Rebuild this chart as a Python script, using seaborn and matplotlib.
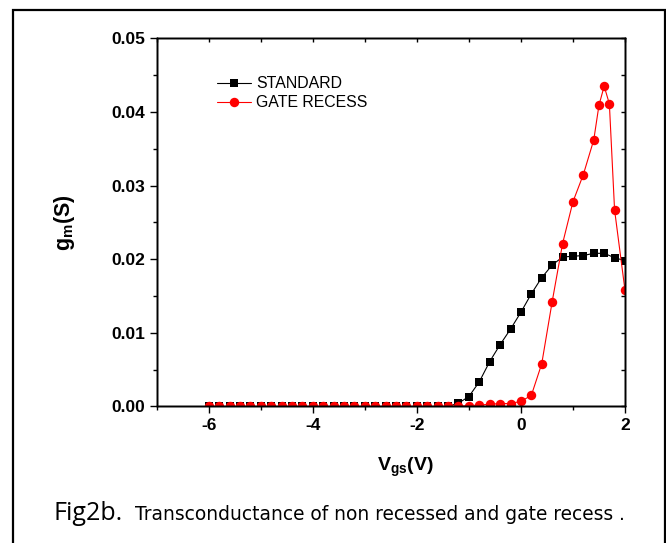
import matplotlib
matplotlib.use("Agg")
import matplotlib.pyplot as plt
import seaborn as sns
import pandas as pd
from matplotlib.patches import Rectangle
from matplotlib.ticker import MultipleLocator

sns.set_style("white")
plt.rcParams['font.family'] = ['Liberation Sans', 'DejaVu Sans']
plt.rcParams['axes.unicode_minus'] = False
plt.rcParams['text.color'] = 'black'
plt.rcParams['axes.labelcolor'] = 'black'
plt.rcParams['xtick.color'] = 'black'
plt.rcParams['ytick.color'] = 'black'
plt.rcParams['axes.edgecolor'] = 'black'
plt.rcParams['mathtext.fontset'] = 'custom'
plt.rcParams['mathtext.rm'] = 'Liberation Sans'
plt.rcParams['mathtext.bf'] = 'Liberation Sans:bold'
plt.rcParams['mathtext.it'] = 'Liberation Sans:italic'

# ---- data ----
vgs_std = [-6.0, -5.8, -5.6, -5.4, -5.2, -5.0, -4.8, -4.6, -4.4, -4.2,
           -4.0, -3.8, -3.6, -3.4, -3.2, -3.0, -2.8, -2.6, -2.4, -2.2,
           -2.0, -1.8, -1.6, -1.4, -1.2, -1.0, -0.8, -0.6, -0.4, -0.2,
           0.0, 0.2, 0.4, 0.6, 0.8, 1.0, 1.2, 1.4, 1.6, 1.8, 2.0]
gm_std = [0.0, 0.0, 0.0, 0.0, 0.0, 0.0, 0.0, 0.0, 0.0, 0.0,
          0.0, 0.0, 0.0, 0.0, 0.0, 0.0, 0.0, 0.0, 0.0, 0.0,
          0.0, 0.0, 0.0, 0.0, 0.00045, 0.00135, 0.00335, 0.0061, 0.0084, 0.0105,
          0.0128, 0.0153, 0.0175, 0.0192, 0.0203, 0.0204, 0.0205, 0.0208, 0.0208, 0.0202, 0.0198]

vgs_rec = [-6.0, -5.8, -5.6, -5.4, -5.2, -5.0, -4.8, -4.6, -4.4, -4.2,
           -4.0, -3.8, -3.6, -3.4, -3.2, -3.0, -2.8, -2.6, -2.4, -2.2,
           -2.0, -1.8, -1.6, -1.4, -1.2, -1.0, -0.8, -0.6, -0.4, -0.2,
           0.0, 0.2, 0.4, 0.6, 0.8, 1.0, 1.2, 1.4, 1.5, 1.6, 1.7, 1.8, 2.0]
gm_rec = [0.0, 0.0, 0.0, 0.0, 0.0, 0.0, 0.0, 0.0, 0.0, 0.0,
          0.0, 0.0, 0.0, 0.0, 0.0, 0.0, 0.0, 0.0, 0.0, 0.0,
          0.0, 0.0, 0.0, 0.0, 0.00005, 0.0001, 0.0002, 0.0003, 0.0004, 0.0004,
          0.0007, 0.0015, 0.0058, 0.0142, 0.0221, 0.0278, 0.0315, 0.0362, 0.0409,
          0.0435, 0.0411, 0.0267, 0.0158]

labels = ["STANDARD", "GATE RECESS"]
colors = ["black", "#ff0000"]
x_ticks = [-6, -4, -2, 0, 2]
y_ticks = [0.00, 0.01, 0.02, 0.03, 0.04, 0.05]
y_ticklabels = ["0.00", "0.01", "0.02", "0.03", "0.04", "0.05"]

df_std = pd.DataFrame({"Vgs": vgs_std, "gm": gm_std})
df_rec = pd.DataFrame({"Vgs": vgs_rec, "gm": gm_rec})

fig = plt.figure(figsize=(6.66, 5.43), dpi=100)
ax = fig.add_axes([0.2353, 0.2514, 0.7031, 0.6781])

sns.lineplot(data=df_std, x="Vgs", y="gm", ax=ax, color=colors[0], marker="s",
             markersize=5.8, markeredgewidth=0, linewidth=0.8, label=labels[0],
             estimator=None, sort=False)
sns.lineplot(data=df_rec, x="Vgs", y="gm", ax=ax, color=colors[1], marker="o",
             markersize=6.8, markeredgewidth=0, linewidth=0.8, label=labels[1],
             estimator=None, sort=False)

ax.set_xlim(-7, 2)
ax.set_ylim(0, 0.05)
ax.set_xticks(x_ticks)
ax.set_xticklabels([str(v) for v in x_ticks])
ax.xaxis.set_minor_locator(MultipleLocator(1))
ax.set_yticks(y_ticks)
ax.set_yticklabels(y_ticklabels)
ax.yaxis.set_minor_locator(MultipleLocator(0.005))

for s in ax.spines.values():
    s.set_linewidth(1.0)
    s.set_color("black")

ax.tick_params(axis="both", which="major", direction="out", length=5, width=1.0,
               labelsize=12.5, pad=3, bottom=True, left=True, top=False, right=False)
ax.tick_params(axis="both", which="minor", direction="out", length=3, width=1.0,
               bottom=True, left=True, top=False, right=False)
for lab in ax.get_xticklabels() + ax.get_yticklabels():
    lab.set_fontweight("bold")

# inward ticks on top/right spines
ax2 = ax.twinx()
ax2.set_ylim(0, 0.05)
ax2.yaxis.set_major_locator(MultipleLocator(0.005))
ax2.tick_params(axis="y", direction="in", length=3, width=1.0, labelright=False)
ax3 = ax.twiny()
ax3.set_xlim(-7, 2)
ax3.xaxis.set_major_locator(MultipleLocator(1))
ax3.tick_params(axis="x", direction="in", length=3, width=1.0, labeltop=False)
for a in (ax2, ax3):
    for s in a.spines.values():
        s.set_linewidth(1.0)
        s.set_color("black")

ax.set_xlabel(r"$\mathbf{V_{gs}(V)}$", fontsize=14)
ax.xaxis.set_label_coords(0.53, -0.135)
ax.set_ylabel(r"$\mathbf{g_{m}(S)}$", fontsize=15.5)
ax.yaxis.set_label_coords(-0.17, 0.5)

ax.legend(loc="upper left", bbox_to_anchor=(0.128, 0.897), frameon=False,
          fontsize=11.4, handlelength=2.2, handletextpad=0.3, labelspacing=0.25,
          borderpad=0, borderaxespad=0)

fig.text(53/666, 1-513/543, "Fig2b.", fontsize=18, va="center", ha="left",
         family=['Open Sans', 'DejaVu Sans'])
fig.text(135/666, 1-514/543, "Transconductance of non recessed and gate recess .",
         fontsize=13.4, va="center", ha="left",
         family=['DejaVu Sans'])

fig.patches.append(Rectangle((13/666, -0.05), (664.5-13)/666, 1.05 - 10/543,
                             transform=fig.transFigure, fill=False,
                             edgecolor="black", linewidth=1.6))

fig.savefig("out.png", dpi=100)
